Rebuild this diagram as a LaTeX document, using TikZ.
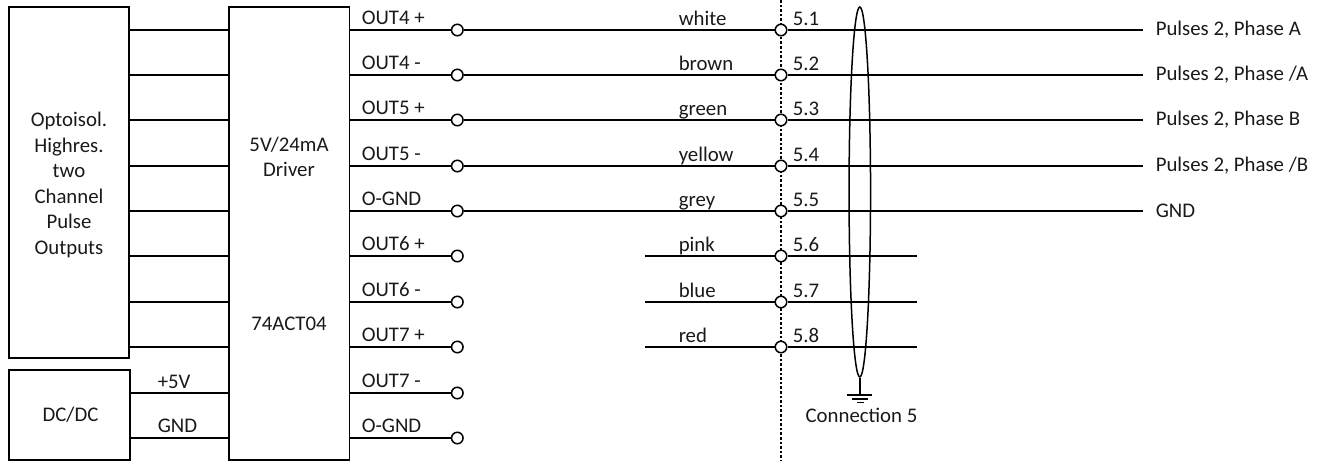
\documentclass[tikz,border=0pt]{standalone}
\usepackage{fontspec}
\setmainfont{Carlito}
\usetikzlibrary{shapes.geometric}
\begin{document}
\begin{tikzpicture}[x=1pt,y=-1pt,line width=1.5pt,
  txt/.style={inner sep=0pt,font=\fontsize{20.8}{25.6}\selectfont,text=black!90},
  wlabel/.style={txt,anchor=base west},
  boxshape/.style={draw,inner sep=0pt,minimum width=0pt,align=center},
  term/.style={circle,draw,fill=white,inner sep=0pt,minimum size=11.5pt,line width=1.5pt}]
\useasboundingbox (0,0) rectangle (1331,461);
% dashed connector line
\coordinate (ct) at (781,0);
\coordinate (cb) at (781,461);
\draw[line width=1.2pt,dash pattern=on 2.6pt off 2pt] (ct) -- (cb);
% boxes
\node[boxshape,minimum width=120pt,minimum height=351pt] (opto) at (69,182.5) {};
\node[boxshape,minimum width=121pt,minimum height=90pt] (dc) at (69.5,415) {};
\node[boxshape,minimum width=120.5pt,minimum height=453pt] (drv) at (289,233.5) {};
\node[txt,align=center] at (69,185) {Optoisol.\\Highres.\\two\\Channel\\Pulse\\Outputs};
\node[txt] at (70.5,415) {DC/DC};
\node[txt,align=center] at (289,157) {5V/24mA\\Driver};
\node[txt] at (289,323.5) {74ACT04};
% reference columns
\coordinate (xo) at (1155,0);
\coordinate (xe) at (1143,0);
\coordinate (xs) at (645,0);
\coordinate (xr) at (917,0);
% rows
\foreach \i/\lab in {0/OUT4 +,1/OUT4 -,2/OUT5 +,3/OUT5 -,4/O-GND,5/OUT6 +,6/OUT6 -,7/OUT7 +,8/OUT7 -,9/O-GND}{
  \pgfmathsetmacro{\yy}{round(29.7+45.35*\i)}
  \node[term] (a\i) at (457.3,\yy) {};
  \coordinate (ds\i) at (drv.west |- a\i);
  \coordinate (de\i) at (drv.east |- a\i);
  \draw (de\i) -- (a\i);
  \node[wlabel] at (361,\yy-5.2) {\lab};
}
\foreach \i in {0,...,7}{
  \coordinate (os\i) at (opto.east |- a\i);
  \draw (os\i) -- (ds\i);
}
\coordinate (ds) at (dc.east |- a8);
\coordinate (dg) at (dc.east |- a9);
\draw (ds) -- (ds8);
\draw (dg) -- (ds9);
\node[wlabel] at (157,388) {+5V};
\node[wlabel] at (157,432) {GND};
% connector terminals
\foreach \i/\num/\col in {0/5.1/white,1/5.2/brown,2/5.3/green,3/5.4/yellow,4/5.5/grey,5/5.6/pink,6/5.7/blue,7/5.8/red}{
  \pgfmathsetmacro{\yy}{round(29.7+45.35*\i)}
  \node[term] (c\i) at (781,\yy) {};
  \node[wlabel] at (678,\yy-5) {\col};
  \node[wlabel] at (792,\yy-5) {\num};
}
% wires through to outputs
\foreach \i/\lab in {0/{Pulses 2, Phase A},1/{Pulses 2, Phase /A},2/{Pulses 2, Phase B},3/{Pulses 2, Phase /B},4/GND}{
  \node[txt,anchor=west] (o\i) at (xo |- a\i) {\lab};
  \coordinate (oe\i) at (xe |- a\i);
  \draw (a\i) -- (c\i);
  \draw (c\i) -- (oe\i);
}
\foreach \i in {5,6,7}{
  \coordinate (ls\i) at (xs |- c\i);
  \coordinate (le\i) at (xr |- c\i);
  \draw (ls\i) -- (c\i);
  \draw (c\i) -- (le\i);
}
% cable shield
\node[draw,ellipse,inner sep=0pt,minimum width=21.5pt,minimum height=370pt] (shield) at (859.8,192) {};
\coordinate (gnd) at (859.8,395);
\draw (shield.south) -- (gnd);
\draw (847,395) -- (872,395);
\draw (852,399) -- (868,399);
\draw (857,402.7) -- (864,402.7);
\node[txt] at (861.5,415) {Connection 5};
\end{tikzpicture}
\end{document}
